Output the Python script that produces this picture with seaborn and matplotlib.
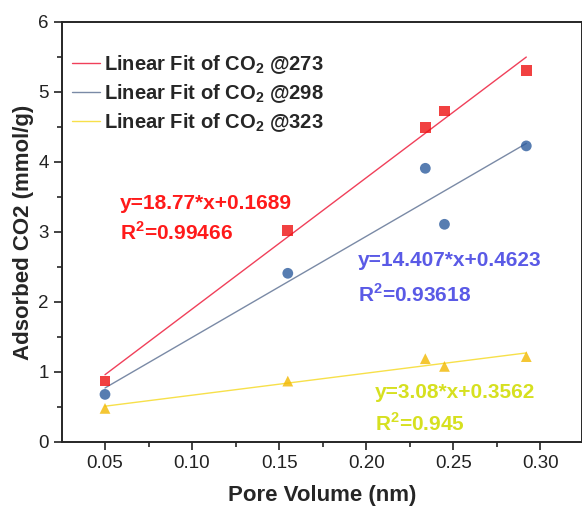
import matplotlib
matplotlib.use("Agg")
import matplotlib.pyplot as plt
import seaborn as sns
import numpy as np
from matplotlib.ticker import MultipleLocator

pore_volume = [0.05, 0.155, 0.234, 0.245, 0.292]
co2_273 = [0.87, 3.02, 4.49, 4.73, 5.31]
co2_298 = [0.68, 2.41, 3.91, 3.11, 4.23]
co2_323 = [0.48, 0.87, 1.19, 1.08, 1.22]

labels = ["Linear Fit of CO$_\\mathbf{2}$ @273",
          "Linear Fit of CO$_\\mathbf{2}$ @298",
          "Linear Fit of CO$_\\mathbf{2}$ @323"]
eq_text = ["y=18.77*x+0.1689", "y=14.407*x+0.4623", "y=3.08*x+0.3562"]
r2_text = ["R$^\\mathbf{2}$=0.99466", "R$^\\mathbf{2}$=0.93618", "R$^\\mathbf{2}$=0.945"]

sns.set_style("ticks")
plt.rcParams['font.family'] = ['Liberation Sans', 'DejaVu Sans']
plt.rcParams['mathtext.fontset'] = 'custom'
plt.rcParams['mathtext.rm'] = 'Liberation Sans'
plt.rcParams['mathtext.bf'] = 'Liberation Sans:bold'

fig = plt.figure(figsize=(5.82, 5.08), dpi=100)
ax = fig.add_axes([62/582, 1-442/508, 1-62/582, (442-22)/508])

series = [co2_273, co2_298, co2_323]
mcolors = ["#ee1111", "#2d5c9e", "#f2b800"]
lcolors = ["#f0405a", "#7a8aa6", "#f7e04a"]
markers = ["s", "o", "^"]

for ys, mc, lc, mk, lab in zip(series, mcolors, lcolors, markers, labels):
    sns.regplot(x=pore_volume, y=ys, ax=ax, ci=None, truncate=True,
                marker=mk,
                scatter_kws=dict(color=mc, s=60, zorder=3, edgecolors='none'),
                line_kws=dict(color=lc, lw=1.0, label=lab))

# annotations
tcolors = ["#ff1a1a", "#5a5ae6", "#d6e020"]
eq_pos = [(0.0586, 3.41), (0.1954, 2.6), (0.2052, 0.70)]
r2_pos = [(0.0586, 2.99), (0.1954, 2.1), (0.2052, 0.27)]
for t, r, c, p1, p2 in zip(eq_text, r2_text, tcolors, eq_pos, r2_pos):
    ax.text(p1[0], p1[1], t, color=c, fontsize=15, fontweight='bold', va='center')
    ax.text(p2[0], p2[1], r, color=c, fontsize=15, fontweight='bold', va='center')

ax.set_xlim(0.0253, 0.324)
ax.set_ylim(0, 6)
ax.xaxis.set_minor_locator(MultipleLocator(0.025))
ax.yaxis.set_major_locator(MultipleLocator(1))
ax.yaxis.set_minor_locator(MultipleLocator(0.5))
ax.set_xticks([0.05, 0.10, 0.15, 0.20, 0.25, 0.30])
ax.set_xticklabels(["0.05", "0.10", "0.15", "0.20", "0.25", "0.30"])
ax.tick_params(which='major', direction='out', length=6, width=1.2, labelsize=13.5, colors='#222222')
ax.tick_params(which='minor', direction='out', length=3.5, width=1.2)
for s in ax.spines.values():
    s.set_linewidth(1.4)
    s.set_visible(True)

ax.set_xlabel("Pore Volume (nm)", fontsize=16, fontweight='bold', labelpad=9)
ax.set_ylabel("Adsorbed CO2 (mmol/g)", fontsize=16, fontweight='bold', labelpad=3)

leg = ax.legend(loc='upper left', frameon=False, prop=dict(weight='bold', size=14.5),
                handlelength=1.4, handletextpad=0.2, labelspacing=0.3,
                borderpad=0, borderaxespad=0,
                bbox_to_anchor=(0.019, 0.925))

fig.savefig("out.png", dpi=100)
